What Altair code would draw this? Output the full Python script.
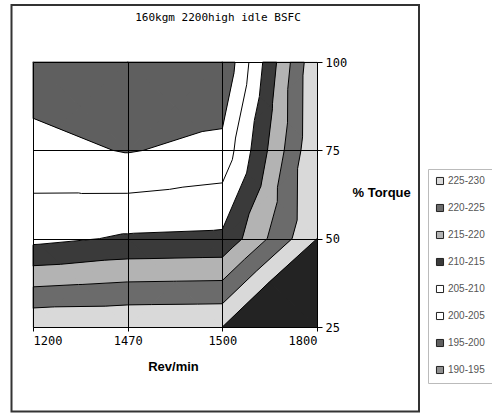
import altair as alt
import pandas as pd

# Engine map: BSFC at each speed / load point
rpm = [1200, 1470, 1500, 1800]
torque = [25, 50, 75, 100]
bsfc_25 = [229.5, 229.8, 230.0, 250.0]
bsfc_50 = [208.6, 210.6, 211.0, 230.0]
bsfc_75 = [201.6, 199.7, 201.5, 229.8]
bsfc_100 = [197.2, 195.3, 195.4, 229.6]

# Contour bands (legend order, top to bottom)
band_lo = [225, 220, 215, 210, 205, 200, 195, 190]
band_labels = [f"{lo}-{lo + 5}" for lo in band_lo]
band_colors = ["#d9d9d9", "#6b6b6b", "#b3b3b3", "#3a3a3a",
               "#ffffff", "#ffffff", "#5f5f5f", "#8f8f8f"]
over_label = "230+"
over_color = "#232323"
levels = [195, 200, 205, 210, 215, 220, 225, 230]

chart_title = "160kgm 2200high idle BSFC"

grid = [bsfc_25, bsfc_50, bsfc_75, bsfc_100]

# Split every grid cell into four triangles around its centre point
triangles = []
for j in range(len(torque) - 1):
    for i in range(len(rpm) - 1):
        p00 = (i, torque[j], grid[j][i])
        p10 = (i + 1, torque[j], grid[j][i + 1])
        p01 = (i, torque[j + 1], grid[j + 1][i])
        p11 = (i + 1, torque[j + 1], grid[j + 1][i + 1])
        cv = (p00[2] + p10[2] + p01[2] + p11[2]) / 4
        c = (i + 0.5, (torque[j] + torque[j + 1]) / 2, cv)
        triangles += [(p00, p10, c), (p10, p11, c), (p11, p01, c), (p01, p00, c)]


def lerp(a, b, level):
    t = (level - a[2]) / (b[2] - a[2])
    return (a[0] + t * (b[0] - a[0]), a[1] + t * (b[1] - a[1]), level)


def clip(poly, level, above):
    out = []
    n = len(poly)
    for k in range(n):
        a, b = poly[k], poly[(k + 1) % n]
        ina = a[2] >= level if above else a[2] <= level
        inb = b[2] >= level if above else b[2] <= level
        if ina:
            out.append(a)
        if ina != inb:
            out.append(lerp(a, b, level))
    return out


def area(poly):
    s = 0.0
    for k in range(len(poly)):
        a, b = poly[k], poly[(k + 1) % len(poly)]
        s += a[0] * (b[1] / 25.0) - b[0] * (a[1] / 25.0)
    return abs(s) / 2


bands = [(lo, lo + 5, lab) for lo, lab in zip(band_lo, band_labels)]
bands.append((230, None, over_label))

poly_rows = []
pid = 0
for tri in triangles:
    for lo, hi, lab in bands:
        poly = clip(list(tri), lo, True)
        if hi is not None and len(poly) >= 3:
            poly = clip(poly, hi, False)
        if len(poly) < 3 or area(poly) < 1e-6:
            continue
        for k, p in enumerate(poly + [poly[0]]):
            poly_rows.append({"pid": pid, "k": k, "x": p[0], "y": p[1], "band": lab})
        pid += 1
poly_df = pd.DataFrame(poly_rows)

seg_rows = []
for tri in triangles:
    for level in levels:
        pts = []
        for k in range(3):
            a, b = tri[k], tri[(k + 1) % 3]
            if (a[2] >= level) != (b[2] >= level):
                pts.append(lerp(a, b, level))
        if len(pts) == 2:
            seg_rows.append({"x": pts[0][0], "y": pts[0][1],
                             "x2": pts[1][0], "y2": pts[1][1]})
seg_df = pd.DataFrame(seg_rows)

x_scale = alt.Scale(domain=[0, len(rpm) - 1], nice=False, zero=False)
y_scale = alt.Scale(domain=[torque[0], torque[-1]], nice=False, zero=False)
fill_scale = alt.Scale(domain=band_labels + [over_label],
                       range=band_colors + [over_color])
# outline colours: same mapping, listed the other way round
stroke_scale = alt.Scale(domain=[over_label] + band_labels[::-1],
                         range=[over_color] + band_colors[::-1])
label_expr = "[" + ",".join(f"'{r}'" for r in rpm) + "][datum.value]"

tick_font = "DejaVu Sans Mono"
title_font = "Liberation Sans"

x_axis = alt.Axis(
    values=list(range(len(rpm))), labelExpr=label_expr, orient="bottom",
    grid=True, gridColor="black", gridWidth=1, gridOpacity=1,
    domainColor="black", tickColor="black", tickSize=4,
    labelFont=tick_font, labelFontSize=12, labelColor="black", labelPadding=4,
    title="Rev/min", titleFont=title_font, titleFontSize=13, titleFontWeight="bold",
    titleColor="black", titleX=140, titleY=39, titleBaseline="middle",
    titleAlign="center", zindex=1,
)
y_axis = alt.Axis(
    values=torque, orient="right",
    grid=True, gridColor="black", gridWidth=1, gridOpacity=1,
    domainColor="black", tickColor="black", tickSize=5,
    labelFont=tick_font, labelFontSize=12, labelColor="black", labelPadding=3,
    labelAlign="left",
    title="% Torque", titleFont=title_font, titleFontSize=13, titleFontWeight="bold",
    titleColor="black", titleAngle=0, titleAlign="left", titleX=35, titleY=130,
    titleBaseline="middle", zindex=1,
)

legend = alt.Legend(
    title=None, orient="none", legendX=395, legendY=107, values=band_labels,
    symbolType="square", symbolSize=50, symbolStrokeColor="#222222",
    symbolStrokeWidth=1, labelFont=title_font, labelOffset=3,
    labelFontSize=10, labelColor="#555555", rowPadding=15, padding=7,
    strokeColor="#bbbbbb", fillColor="white",
)

# Same-coloured outlines underneath keep neighbouring pieces seamless
outlines = alt.Chart(poly_df).mark_line(strokeWidth=1.2, strokeJoin="round").encode(
    x=alt.X("x:Q", scale=x_scale, axis=x_axis),
    y=alt.Y("y:Q", scale=y_scale, axis=y_axis),
    stroke=alt.Stroke("band:N", scale=stroke_scale, legend=None),
    detail="pid:N",
    order="k:Q",
)

filled = alt.Chart(poly_df).mark_line(stroke="transparent").encode(
    x=alt.X("x:Q", scale=x_scale),
    y=alt.Y("y:Q", scale=y_scale),
    fill=alt.Fill("band:N", scale=fill_scale, legend=legend),
    detail="pid:N",
    order="k:Q",
)

contours = alt.Chart(seg_df).mark_rule(color="black", strokeWidth=1).encode(
    x="x:Q", y="y:Q", x2="x2:Q", y2="y2:Q"
)

frame = alt.Chart(pd.DataFrame({"f": [0]})).mark_rect(
    fillOpacity=0, stroke="#333333", strokeWidth=2
).encode(
    x=alt.value(-21.5), x2=alt.value(386), y=alt.value(-57), y2=alt.value(349.5)
)

heading = alt.Chart(pd.DataFrame({"t": [chart_title]})).mark_text(
    font=tick_font, fontSize=11, color="black", align="center", baseline="middle"
).encode(text="t:N", x=alt.value(185), y=alt.value(-44))

chart = alt.layer(outlines, filled, contours, frame, heading).properties(
    width=284, height=265,
    autosize=alt.AutoSizeParams(type="none"),
    padding={"left": 33, "top": 62, "right": 175, "bottom": 86},
).configure_view(stroke=None).configure(background="white")

chart.save("out.html", embed_options={"renderer": "svg", "actions": False})
